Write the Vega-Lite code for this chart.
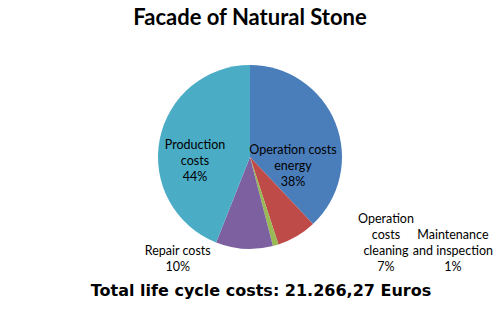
{
  "$schema": "https://vega.github.io/schema/vega-lite/v6.json",
  "padding": {"top": 7, "left": 0, "right": 0, "bottom": 0},
  "background": "white",
  "title": {"text": "Facade of Natural Stone", "font": "Lato", "fontSize": 22, "fontWeight": "bold", "color": "black", "anchor": "middle", "frame": "group", "offset": 17},
  "config": {"view": {"stroke": null}, "concat": {"spacing": 0}},
  "vconcat": [
    {
      "width": 500,
      "height": 220,
      "title": {"text": "Total life cycle costs: 21.266,27 Euros", "orient": "bottom", "font": "DejaVu Sans", "fontSize": 16, "fontWeight": "bold", "color": "black", "anchor": "middle", "frame": "group", "baseline": "top", "offset": 9, "dx": 11},
      "data": {"values": [
        {"category": "Operation costs energy", "value": 38, "order": 1, "label": "Operation costs\nenergy\n38%"},
        {"category": "Operation costs cleaning", "value": 7, "order": 2, "label": "Operation\ncosts\ncleaning\n7%"},
        {"category": "Maintenance and inspection", "value": 1, "order": 3, "label": "Maintenance\nand inspection\n1%"},
        {"category": "Repair costs", "value": 10, "order": 4, "label": "Repair costs\n10%"},
        {"category": "Production costs", "value": 44, "order": 5, "label": "Production\ncosts\n44%"}
      ]},
      "encoding": {
        "theta": {"field": "value", "type": "quantitative", "stack": true},
        "order": {"field": "order", "type": "quantitative"}
      },
      "layer": [
        {
          "mark": {"type": "arc", "outerRadius": 92},
          "encoding": {
            "color": {"field": "category", "type": "nominal", "legend": null,
              "scale": {"domain": ["Operation costs energy", "Operation costs cleaning", "Maintenance and inspection", "Repair costs", "Production costs"],
                        "range": ["#4A7EBB", "#BE4B48", "#98B954", "#7D60A0", "#4BACC6"]}}
          }
        },
        {
          "mark": {"type": "text", "radius": 50, "dx": -3.5, "dy": 11, "font": "Lato", "fontSize": 12.5, "lineHeight": 16, "lineBreak": "\n", "color": "black", "align": "center", "baseline": "middle"},
          "encoding": {"text": {"condition": {"test": "datum.order === 1", "field": "label", "type": "nominal"}, "value": ""}}
        },
        {
          "mark": {"type": "text", "radius": 110, "dx": 80, "dy": -33, "font": "Lato", "fontSize": 12.5, "lineHeight": 16, "lineBreak": "\n", "color": "black", "align": "center", "baseline": "middle"},
          "encoding": {"text": {"condition": {"test": "datum.order === 2", "field": "label", "type": "nominal"}, "value": ""}}
        },
        {
          "mark": {"type": "text", "radius": 100, "dx": 175, "dy": -18, "font": "Lato", "fontSize": 12.5, "lineHeight": 16, "lineBreak": "\n", "color": "black", "align": "center", "baseline": "middle"},
          "encoding": {"text": {"condition": {"test": "datum.order === 3", "field": "label", "type": "nominal"}, "value": ""}}
        },
        {
          "mark": {"type": "text", "radius": 100, "dx": -66, "dy": -6, "font": "Lato", "fontSize": 12.5, "lineHeight": 16, "lineBreak": "\n", "color": "black", "align": "center", "baseline": "middle"},
          "encoding": {"text": {"condition": {"test": "datum.order === 4", "field": "label", "type": "nominal"}, "value": ""}}
        },
        {
          "mark": {"type": "text", "radius": 56, "dx": 0, "dy": -2, "font": "Lato", "fontSize": 12.5, "lineHeight": 16, "lineBreak": "\n", "color": "black", "align": "center", "baseline": "middle"},
          "encoding": {"text": {"condition": {"test": "datum.order === 5", "field": "label", "type": "nominal"}, "value": ""}}
        }
      ]
    }
  ]
}
